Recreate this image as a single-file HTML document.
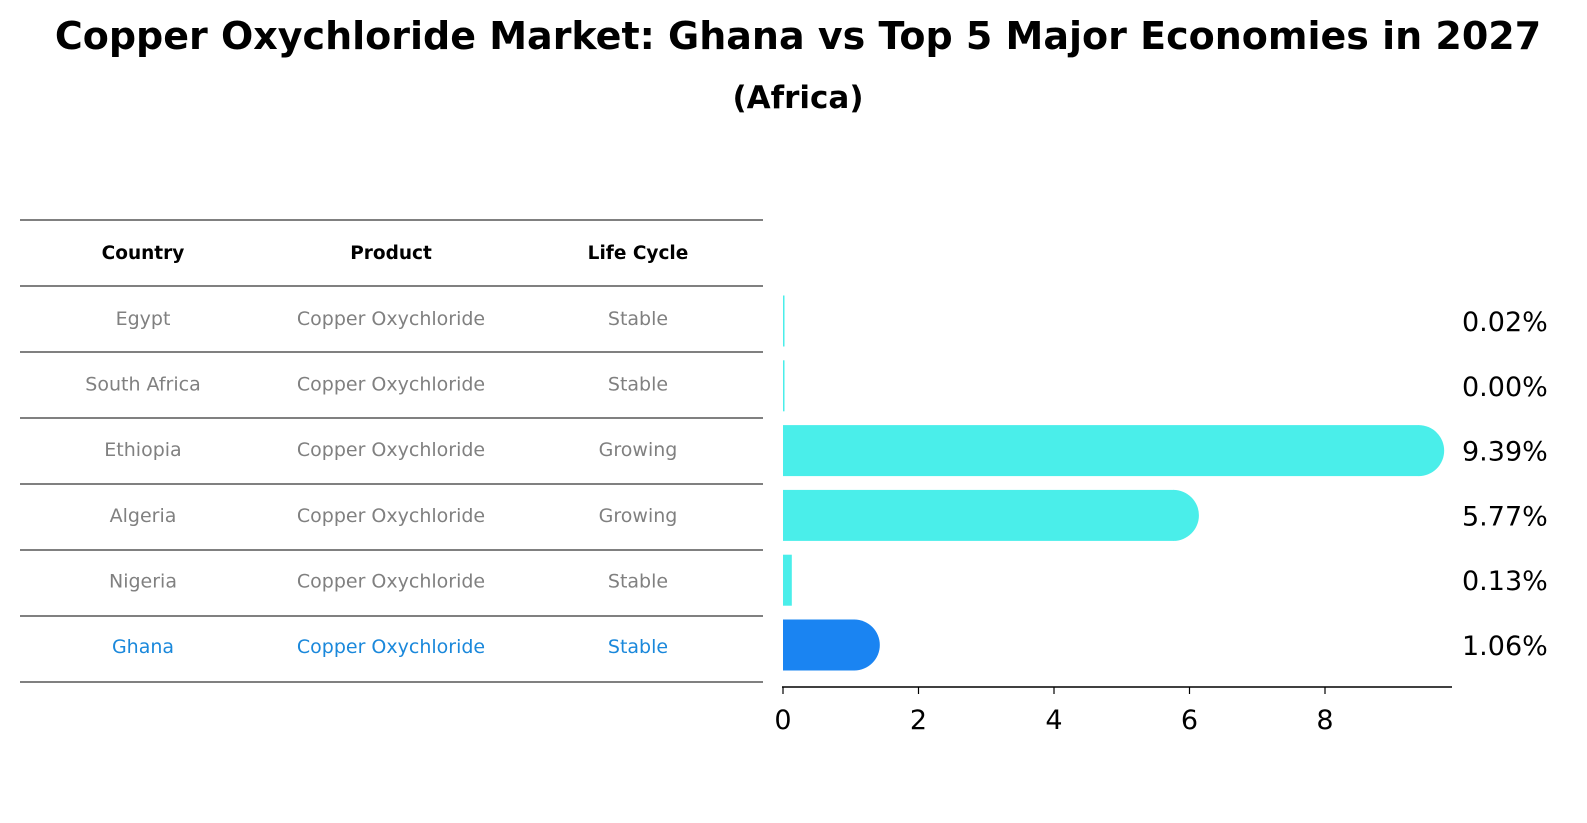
<!DOCTYPE html>
<html><head><meta charset="utf-8"><style>
html,body{margin:0;padding:0;overflow:hidden;width:1587px;height:823px;background:#fff;font-family:"DejaVu Sans","Liberation Sans",sans-serif;}
svg{display:block;}
</style></head><body>
<svg width="1587" height="823" xmlns="http://www.w3.org/2000/svg" style="font-family:'DejaVu Sans','Liberation Sans',sans-serif">
<text x="798" y="49" text-anchor="middle" font-size="38" font-weight="bold">Copper Oxychloride Market: Ghana vs Top 5 Major Economies in 2027</text>
<text x="798" y="108" text-anchor="middle" font-size="31" font-weight="bold">(Africa)</text>
<g id="table"></g>
<g id="bars"></g>
</svg>
<script>
const countries=["Egypt","South Africa","Ethiopia","Algeria","Nigeria","Ghana"];
const products=["Copper Oxychloride","Copper Oxychloride","Copper Oxychloride","Copper Oxychloride","Copper Oxychloride","Copper Oxychloride"];
const lifeCycles=["Stable","Stable","Growing","Growing","Stable","Stable"];
const values=[0.02,0.00,9.39,5.77,0.13,1.06];
const valueLabels=["0.02%","0.00%","9.39%","5.77%","0.13%","1.06%"];
const xTicks=[0,2,4,6,8];
const NS="http://www.w3.org/2000/svg";
function mk(t,a,p){const e=document.createElementNS(NS,t);for(const k in a)e.setAttribute(k,a[k]);p.appendChild(e);return e;}
const tbl=document.getElementById('table');
const lineYs=[220,286,352,418,484,550,616,682];
lineYs.forEach(y=>{const l=mk('line',{x1:20,x2:763,y1:y,y2:y,stroke:'#000','stroke-width':1},tbl);

});
const colX=[143,391,638];
["Country","Product","Life Cycle"].forEach((h,i)=>{const t=mk('text',{x:colX[i],y:259,'text-anchor':'middle','font-size':18.5,'font-weight':'bold'},tbl);t.textContent=h;

});
countries.forEach((c,r)=>{const y=325+r*65.6;const col=c==="Ghana"?"#1a88db":"#808080";
[c,products[r],lifeCycles[r]].forEach((v,i)=>{const t=mk('text',{x:colX[i],y:y,'text-anchor':'middle','font-size':19,fill:col},tbl);t.textContent=v;

});});
const g=document.getElementById('bars');
const x0=783,scale=67.75;const X=v=>x0+v*scale;
const Y=i=>321+i*64.8;const bh=51;
mk('line',{x1:782,x2:1452,y1:687,y2:687,stroke:'#000','stroke-width':1.5},g);
xTicks.forEach(t=>{const l=mk('line',{x1:X(t),x2:X(t),y1:687,y2:694,stroke:'#000','stroke-width':1.2},g);


const tx=mk('text',{x:X(t),y:729,'text-anchor':'middle','font-size':27},g);tx.textContent=t;

});
values.forEach((v,i)=>{const col=countries[i]==="Ghana"?"#1a84f2":"#4aeeea";const cy=Y(i);const w=Math.max(X(v)-x0,1.5);
const r=mk('rect',{x:x0,y:cy-bh/2,width:w,height:bh,fill:col},g);


if(v>0.5){const c=mk('path',{d:`M${x0+w-0.5},${cy-bh/2} A${bh/2},${bh/2} 0 0 1 ${x0+w-0.5},${cy+bh/2} Z`,fill:col},g);

}
const t=mk('text',{x:1462,y:cy+10,'font-size':27},g);t.textContent=valueLabels[i];

});
</script>
</body></html>
